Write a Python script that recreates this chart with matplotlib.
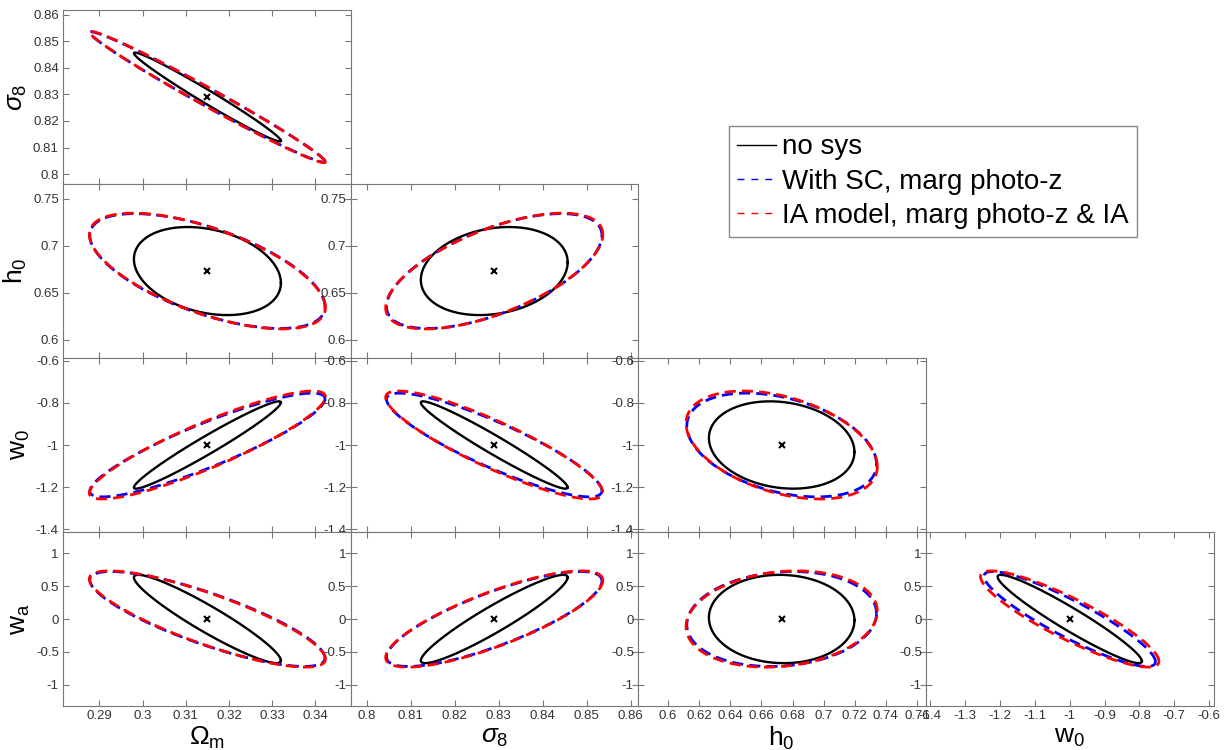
import numpy as np
import matplotlib.pyplot as plt
from matplotlib.lines import Line2D
from matplotlib.ticker import FuncFormatter

plt.rcParams['font.family'] = ['Liberation Sans', 'DejaVu Sans']
plt.rcParams['axes.unicode_minus'] = False
plt.rcParams['mathtext.fontset'] = 'custom'
plt.rcParams['mathtext.rm'] = 'Liberation Sans'
plt.rcParams['mathtext.it'] = 'Liberation Sans:italic'

# parameters: Omega_m, sigma_8, h_0, w_0, w_a
names = [r'$\Omega_\mathrm{m}$', r'$\sigma_8$', r'$\mathrm{h}_0$',
         r'$\mathrm{w}_0$', r'$\mathrm{w}_\mathrm{a}$']
fiducial = [0.315, 0.829, 0.673, -1.0, 0.0]
lims = [(0.2816, 0.3481), (0.7963, 0.8617), (0.5806, 0.7655),
        (-1.4125, -0.5875), (-1.32, 1.32)]
xticks = [[0.29, 0.30, 0.31, 0.32, 0.33, 0.34],
          [0.80, 0.81, 0.82, 0.83, 0.84, 0.85, 0.86],
          [0.60, 0.62, 0.64, 0.66, 0.68, 0.70, 0.72, 0.74, 0.76],
          [-1.4, -1.3, -1.2, -1.1, -1.0, -0.9, -0.8, -0.7, -0.6],
          [-1, -0.5, 0, 0.5, 1]]
yticks = [[0.29, 0.30, 0.31, 0.32, 0.33, 0.34],
          [0.80, 0.81, 0.82, 0.83, 0.84, 0.85, 0.86],
          [0.60, 0.65, 0.70, 0.75],
          [-1.4, -1.2, -1.0, -0.8, -0.6],
          [-1, -0.5, 0, 0.5, 1]]

# contour half-widths per parameter and pairwise correlations
sig_nosys = [0.0170, 0.0167, 0.0468, 0.207, 0.67]
corr_nosys = [[1.0, -0.985, -0.27, 0.972, -0.94],
              [-0.985, 1.0, 0.20, -0.97, 0.94],
              [-0.27, 0.20, 1.0, -0.16, -0.03],
              [0.972, -0.97, -0.16, 1.0, -0.955],
              [-0.94, 0.94, -0.03, -0.955, 1.0]]

sig_sc = [0.0272, 0.0245, 0.0610, 0.246, 0.72]
corr_sc = [[1.0, -0.988, -0.62, 0.89, -0.82],
           [-0.988, 1.0, 0.62, -0.88, 0.80],
           [-0.62, 0.62, 1.0, -0.37, 0.12],
           [0.89, -0.88, -0.37, 1.0, -0.90],
           [-0.82, 0.80, 0.12, -0.90, 1.0]]

sig_ia = [0.0273, 0.0247, 0.0615, 0.256, 0.73]
corr_ia = [[1.0, -0.988, -0.63, 0.89, -0.83],
           [-0.988, 1.0, 0.63, -0.88, 0.80],
           [-0.63, 0.63, 1.0, -0.40, 0.16],
           [0.89, -0.88, -0.40, 1.0, -0.88],
           [-0.83, 0.80, 0.16, -0.88, 1.0]]

cases = [(sig_nosys, corr_nosys, 'black', '-', 'no sys'),
         (sig_sc, corr_sc, 'blue', '--', 'With SC, marg photo-z'),
         (sig_ia, corr_ia, 'red', '--', 'IA model, marg photo-z & IA')]

t = np.linspace(0, 2 * np.pi, 400)


def ellipse(i, j, sig, corr):
    r = corr[i][j]
    x = fiducial[i] + sig[i] * np.cos(t)
    y = fiducial[j] + sig[j] * (r * np.cos(t) + np.sqrt(1 - r * r) * np.sin(t))
    return x, y


fmt = FuncFormatter(lambda v, p: '%g' % round(v, 4))
W, H = 1225, 750
col_left = [63, 350.5, 638, 926]
row_top = [10, 184, 358, 532]
pw, ph = 287.5, 174

fig = plt.figure(figsize=(12.25, 7.5), dpi=100)

for row in range(1, 5):
    for col in range(row):
        ax = fig.add_axes([col_left[col] / W, 1 - (row_top[row - 1] + ph) / H,
                           pw / W, ph / H])
        for sig, corr, c, ls, lab in cases:
            x, y = ellipse(col, row, sig, corr)
            if ls == '-':
                ax.plot(x, y, color=c, lw=1.7)
            else:
                ax.plot(x, y, color=c, lw=2.0, dashes=(4, 2.2))
        ax.plot(fiducial[col], fiducial[row], 'x', color='black', ms=4, mew=1.5)
        ax.set_xlim(lims[col])
        ax.set_ylim(lims[row])
        ax.set_xticks(xticks[col])
        ax.set_yticks(yticks[row])
        ax.xaxis.set_major_formatter(fmt)
        ax.yaxis.set_major_formatter(fmt)
        ax.tick_params(direction='in', top=True, right=True, length=4,
                       width=0.8, color='#777777', labelsize=9.5,
                       labelcolor='#333333', pad=3)
        if row < 4:
            ax.tick_params(labelbottom=False)
        else:
            ax.set_xlabel(names[col], fontsize=19, labelpad=2)
        if col == 0:
            ax.set_ylabel(names[row], fontsize=19, labelpad=3)
        for s in ax.spines.values():
            s.set_color('#777777')
            s.set_linewidth(0.8)

handles = []
for _, _, c, ls, _ in cases:
    if ls == '-':
        handles.append(Line2D([], [], color=c, lw=1.0))
    else:
        handles.append(Line2D([], [], color=c, lw=1.0, dashes=(5, 5)))
labels = [lab for *_, lab in cases]
fig.legend(handles, labels, loc='upper left', bbox_to_anchor=(729 / W, 1 - 126 / H),
           fontsize=20, handlelength=1.4, handletextpad=0.2, borderpad=0.3,
           labelspacing=0.3, fancybox=False, edgecolor='#888888', framealpha=1,
           borderaxespad=0)

fig.savefig('out.png', dpi=100)
